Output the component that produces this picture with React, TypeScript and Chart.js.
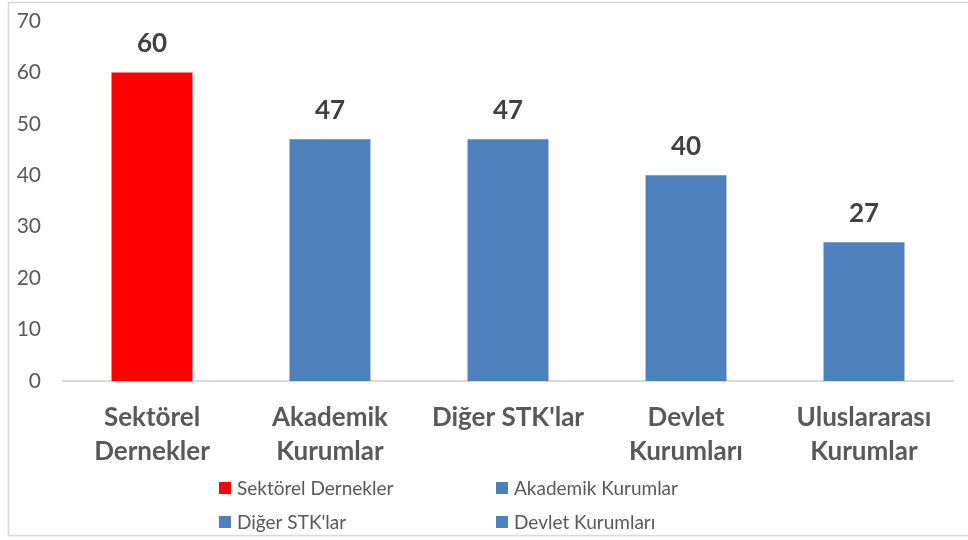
import React, { useEffect, useRef } from "react";
import { Chart, registerables } from "chart.js";

Chart.register(...registerables);

const categories: string[][] = [
  ["Sektörel", "Dernekler"],
  ["Akademik", "Kurumlar"],
  ["Diğer STK'lar"],
  ["Devlet", "Kurumları"],
  ["Uluslararası", "Kurumlar"],
];
const legendNames = [
  "Sektörel Dernekler",
  "Akademik Kurumlar",
  "Diğer STK'lar",
  "Devlet Kurumları",
  "Uluslararası Kurumlar",
];
const values = [60, 47, 47, 40, 27];
const barColors = ["#FF0000", "#4F81BD", "#4F81BD", "#4F81BD", "#4F81BD"];
const yMin = 0;
const yMax = 70;
const yStep = 10;

const FONT = "Lato, 'Open Sans', sans-serif";

const framePlugin = {
  id: "frame",
  beforeDraw(chart: any) {
    const ctx = chart.ctx;
    ctx.save();
    ctx.fillStyle = "#FFFFFF";
    ctx.fillRect(0, 0, chart.width, chart.height);
    ctx.strokeStyle = "#D9D9D9";
    ctx.lineWidth = 1.5;
    ctx.beginPath();
    ctx.moveTo(chart.width + 2, 2.5);
    ctx.lineTo(8.5, 2.5);
    ctx.lineTo(8.5, 535.5);
    ctx.lineTo(chart.width + 2, 535.5);
    ctx.stroke();
    ctx.restore();
  },
};

const valueLabelPlugin = {
  id: "valueLabels",
  afterDatasetsDraw(chart: any) {
    const ctx = chart.ctx;
    const meta = chart.getDatasetMeta(0);
    const data = chart.data.datasets[0].data;
    ctx.save();
    ctx.font = `bold 26px ${FONT}`;
    ctx.fillStyle = "#404040";
    ctx.textAlign = "center";
    ctx.textBaseline = "alphabetic";
    meta.data.forEach((bar: any, i: number) => {
      ctx.fillText(String(data[i]), bar.x, bar.y - 20);
    });
    ctx.restore();
  },
};

const legendPlugin = {
  id: "gridLegend",
  afterDraw(chart: any) {
    const ctx = chart.ctx;
    const colX = [219, 496];
    const rowY = [488, 522];
    const colors = chart.data.datasets[0].backgroundColor;
    ctx.save();
    ctx.font = `19px ${FONT}`;
    ctx.textBaseline = "middle";
    ctx.textAlign = "left";
    for (let i = 0; i < 4; i++) {
      const x = colX[i % 2];
      const y = rowY[Math.floor(i / 2)];
      ctx.fillStyle = colors[i];
      ctx.fillRect(x, y - 6, 12, 12);
      ctx.fillStyle = "#595959";
      ctx.fillText(legendNames[i], x + 18, y + 1);
    }
    ctx.restore();
  },
};

export default function App() {
  const ref = useRef<HTMLCanvasElement | null>(null);
  useEffect(() => {
    if (!ref.current) return;
    const chart = new Chart(ref.current, {
      type: "bar",
      data: {
        labels: categories,
        datasets: [
          {
            label: "Değer",
            data: values,
            backgroundColor: barColors,
            borderWidth: 0,
            categoryPercentage: 1,
            barPercentage: 0.455,
          },
        ],
      },
      options: {
        responsive: false,
        animation: false,
        layout: { padding: { top: 21, right: 15, left: 0, bottom: 0 } },
        plugins: {
          legend: { display: false },
          tooltip: { enabled: false },
        },
        scales: {
          x: {
            grid: { display: false, drawTicks: false },
            border: { display: true, color: "#D9D9D9", width: 2 },
            ticks: {
              color: "#595959",
              padding: 20,
              maxRotation: 0,
              autoSkip: false,
              font: { family: FONT, size: 26, weight: "bold", lineHeight: 34 / 26 },
            },
            afterFit(scale: any) {
              scale.height = 159;
              scale.paddingLeft = 0;
              scale.paddingRight = 0;
            },
          },
          y: {
            min: yMin,
            max: yMax,
            grid: { display: false, drawTicks: false },
            border: { display: false },
            ticks: {
              stepSize: yStep,
              color: "#595959",
              padding: 22,
              font: { family: FONT, size: 21 },
            },
            afterFit(scale: any) {
              scale.width = 63;
              scale.paddingTop = 0;
              scale.paddingBottom = 0;
            },
          },
        },
      },
      plugins: [framePlugin, valueLabelPlugin, legendPlugin],
    });
    return () => chart.destroy();
  }, []);
  return (
    <div style={{ position: "absolute", left: 0, top: 0, width: 968, height: 540 }}>
      <canvas ref={ref} width={968} height={540} />
    </div>
  );
}
